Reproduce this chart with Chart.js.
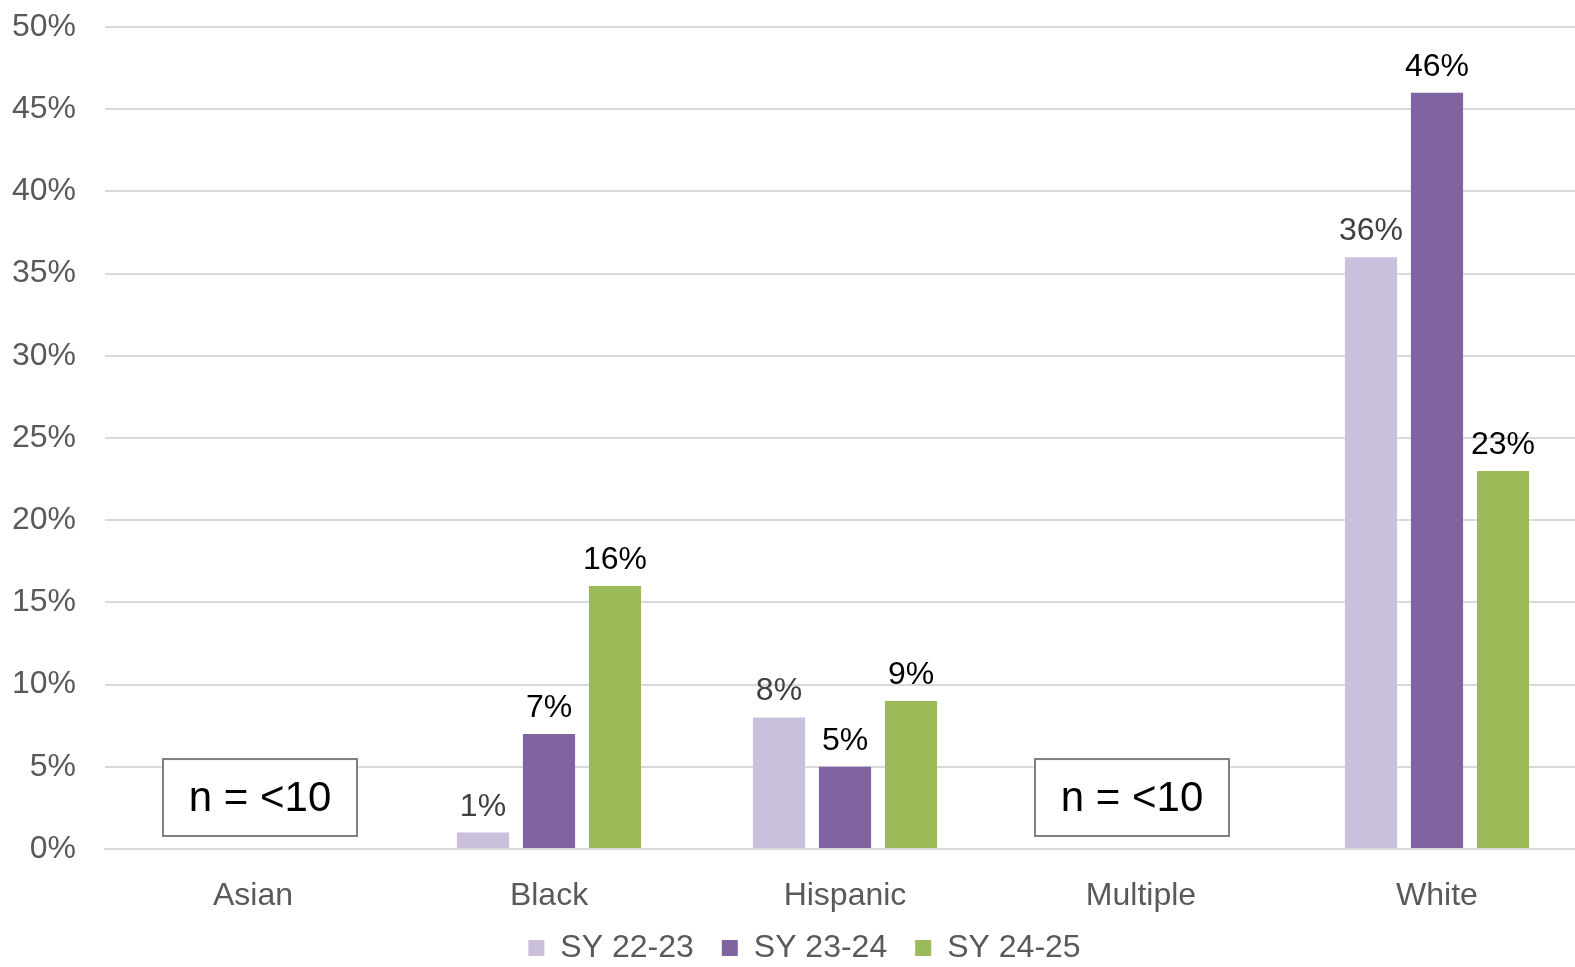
<!DOCTYPE html>
<html>
<head>
<meta charset="utf-8">
<script src="https://cdn.jsdelivr.net/npm/chart.js@4.4.1/dist/chart.umd.min.js"></script>
<style>
  body { margin: 0; background: #fff; overflow: hidden; }
  #wrap { width: 1575px; height: 967px; overflow: hidden; }
  #inner { width: 1590px; height: 989px; }
</style>
</head>
<body>
<div id="wrap"><div id="inner"><canvas id="barChart"></canvas></div></div>
<script>
const categories = ["Asian", "Black", "Hispanic", "Multiple", "White"];
const sy2223 = [null, 1, 8, null, 36];
const sy2324 = [null, 7, 5, null, 46];
const sy2425 = [null, 16, 9, null, 23];
const yTicks = [0, 5, 10, 15, 20, 25, 30, 35, 40, 45, 50];
const smallGroups = ["Asian", "Multiple"];

const FONT = "'Liberation Sans', Arial, sans-serif";

// value labels above each bar
const valueLabels = {
  id: "valueLabels",
  afterDatasetsDraw(chart) {
    const ctx = chart.ctx;
    ctx.save();
    ctx.font = "32px " + FONT;
    ctx.textAlign = "center";
    ctx.textBaseline = "alphabetic";
    chart.data.datasets.forEach((ds, i) => {
      const meta = chart.getDatasetMeta(i);
      meta.data.forEach((bar, j) => {
        const v = ds.data[j];
        if (v == null) return;
        ctx.fillStyle = i === 0 ? "#404040" : "#000000";
        ctx.fillText(v + "%", bar.x, bar.y - 17);
      });
    });
    ctx.restore();
  }
};

// "n = <10" boxes for small groups
const boxShift = { Asian: 7, Multiple: -9 };
const smallBoxes = {
  id: "smallBoxes",
  afterDatasetsDraw(chart) {
    const ctx = chart.ctx;
    const x = chart.scales.x, y = chart.scales.y;
    ctx.save();
    smallGroups.forEach(name => {
      const cx = x.getPixelForValue(categories.indexOf(name)) + boxShift[name];
      const top = y.getPixelForValue(5.47);
      const bottom = y.getPixelForValue(0.79);
      ctx.fillStyle = "#fff";
      ctx.fillRect(cx - 97, top, 194, bottom - top);
      ctx.strokeStyle = "#7f7f7f";
      ctx.lineWidth = 2;
      ctx.strokeRect(cx - 97, top, 194, bottom - top);
      ctx.fillStyle = "#000";
      ctx.font = "42px " + FONT;
      ctx.textAlign = "center";
      ctx.textBaseline = "middle";
      ctx.fillText("n = <10", cx, (top + bottom) / 2 + 2);
    });
    ctx.restore();
  }
};

// nudge the legend into place, like the original
const legendShift = {
  id: "legendShift",
  afterLayout(chart) {
    chart.legend.left += 12;
    chart.legend.right += 12;
    chart.legend.top -= 15;
    chart.legend.bottom -= 15;
  }
};

new Chart(document.getElementById("barChart"), {
  type: "bar",
  data: {
    labels: categories,
    datasets: [
      { label: "SY 22-23", data: sy2223, backgroundColor: "#CBC0DB" },
      { label: "SY 23-24", data: sy2324, backgroundColor: "#8064A2" },
      { label: "SY 24-25", data: sy2425, backgroundColor: "#9BBB59" }
    ]
  },
  options: {
    responsive: true,
    maintainAspectRatio: false,
    animation: false,
    categoryPercentage: 0.669,
    barPercentage: 0.79,
    layout: { padding: { top: 27, right: 5, left: 0, bottom: 0 } },
    plugins: {
      tooltip: { enabled: false },
      legend: {
        position: "bottom",
        labels: {
          font: { family: FONT, size: 32 },
          color: "#595959",
          boxWidth: 16,
          boxHeight: 16,
          padding: 28
        }
      }
    },
    scales: {
      x: {
        grid: { display: false },
        border: { color: "#d9d9d9", width: 2 },
        ticks: { font: { family: FONT, size: 32 }, color: "#595959", padding: 20 },
        afterFit(scale) {
          scale.height = 70;
          scale.paddingLeft = 0;
          scale.paddingRight = 0;
        }
      },
      y: {
        min: 0,
        max: 50,
        afterBuildTicks(scale) { scale.ticks = yTicks.map(v => ({ value: v })); },
        grid: { color: "#d9d9d9", lineWidth: 2, drawTicks: false },
        border: { display: false },
        ticks: {
          font: { family: FONT, size: 32 },
          color: "#595959",
          padding: 29,
          callback: v => v + "%"
        },
        afterFit(scale) {
          scale.width = 105;
          scale.paddingTop = 0;
          scale.paddingBottom = 0;
        }
      }
    }
  },
  plugins: [valueLabels, smallBoxes, legendShift]
});
</script>
</body>
</html>
